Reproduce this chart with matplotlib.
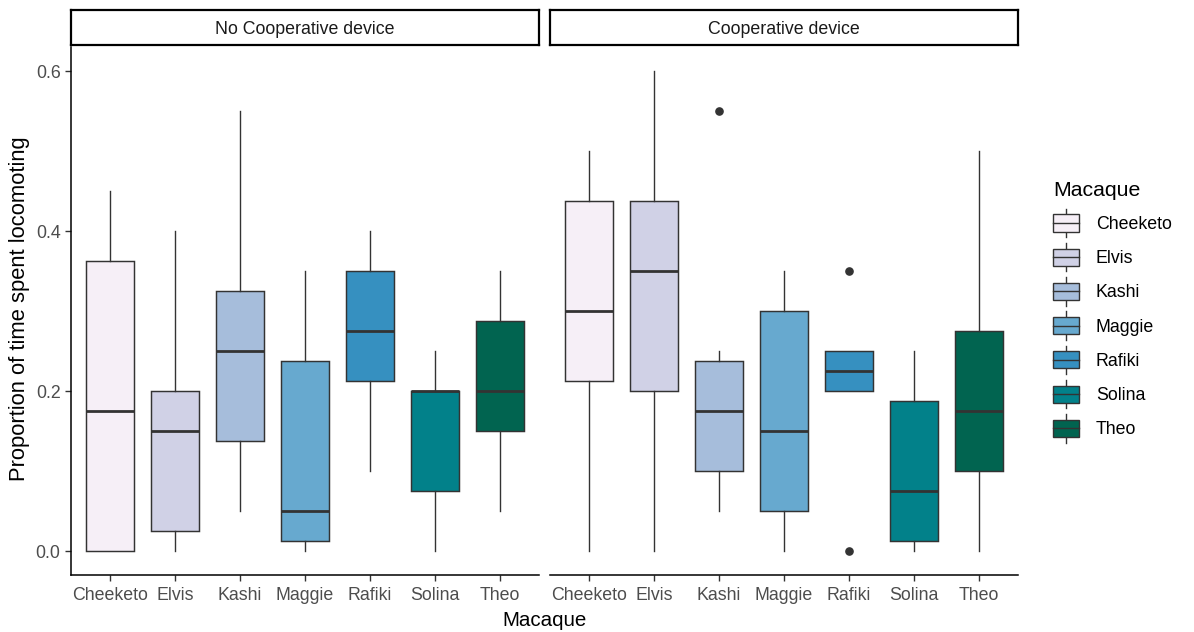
import matplotlib
matplotlib.use("Agg")
import matplotlib.pyplot as plt
from matplotlib.patches import Patch, Rectangle
from matplotlib.lines import Line2D
from matplotlib.legend_handler import HandlerBase

plt.rcParams["font.family"] = ["Liberation Sans", "DejaVu Sans"]

# ---- data -------------------------------------------------------------
macaques = ["Cheeketo", "Elvis", "Kashi", "Maggie", "Rafiki", "Solina", "Theo"]
facets = ["No Cooperative device", "Cooperative device"]

# No cooperative device
nc_low = [0.0, 0.0, 0.05, 0.0, 0.10, 0.0, 0.05]
nc_q1 = [0.0, 0.025, 0.1375, 0.0125, 0.2125, 0.075, 0.15]
nc_med = [0.175, 0.15, 0.25, 0.05, 0.275, 0.20, 0.20]
nc_q3 = [0.3625, 0.20, 0.325, 0.2375, 0.35, 0.20, 0.2875]
nc_high = [0.45, 0.40, 0.55, 0.35, 0.40, 0.25, 0.35]
nc_out = [[], [], [], [], [], [], []]

# Cooperative device
co_low = [0.0, 0.0, 0.05, 0.0, 0.20, 0.0, 0.0]
co_q1 = [0.2125, 0.20, 0.10, 0.05, 0.20, 0.0125, 0.10]
co_med = [0.30, 0.35, 0.175, 0.15, 0.225, 0.075, 0.175]
co_q3 = [0.4375, 0.4375, 0.2375, 0.30, 0.25, 0.1875, 0.275]
co_high = [0.50, 0.60, 0.25, 0.35, 0.25, 0.25, 0.50]
co_out = [[], [], [0.55], [], [0.35, 0.0], [], []]

palette = ["#f6eff7", "#d0d1e6", "#a6bddb", "#67a9cf", "#3690c0", "#02818a", "#016450"]

y_ticks = [0.0, 0.2, 0.4, 0.6]
y_ticklabels = ["0.0", "0.2", "0.4", "0.6"]

# ---- styling ----------------------------------------------------------
W, H = 1194, 632
LINE = "#333333"
TICK_TXT = "#4D4D4D"
FS_TICK = 12.8
FS_TITLE = 14.8


def fx(px):
    return px / W


def fy(px):
    return 1 - px / H


fig = plt.figure(figsize=(W / 100, H / 100), dpi=100)
fig.patch.set_facecolor("white")

panel_left = [71, 550]
panel_w = 468
panel_top, panel_bot = 47, 575

groups = [
    (nc_low, nc_q1, nc_med, nc_q3, nc_high, nc_out),
    (co_low, co_q1, co_med, co_q3, co_high, co_out),
]

for k, (lo, q1, med, q3, hi, out) in enumerate(groups):
    ax = fig.add_axes([fx(panel_left[k]), fy(panel_bot), fx(panel_w),
                       (panel_bot - panel_top) / H])
    stats = []
    for i, name in enumerate(macaques):
        stats.append(dict(label=name, whislo=lo[i], q1=q1[i], med=med[i],
                          q3=q3[i], whishi=hi[i], fliers=out[i]))
    pos = list(range(1, len(macaques) + 1))
    bp = ax.bxp(stats, positions=pos, widths=0.75, patch_artist=True,
                showcaps=False, showfliers=True,
                boxprops=dict(edgecolor=LINE, linewidth=1.05),
                whiskerprops=dict(color=LINE, linewidth=1.0),
                medianprops=dict(color=LINE, linewidth=2.0,
                                 solid_capstyle="butt"),
                flierprops=dict(marker="o", markerfacecolor=LINE,
                                markeredgecolor=LINE, markersize=5.2,
                                linestyle="none"))
    for patch, c in zip(bp["boxes"], palette):
        patch.set_facecolor(c)

    ax.set_xlim(0.4, len(macaques) + 0.6)
    ax.set_ylim(-0.03, 0.63)
    ax.set_xticks(pos)
    ax.set_xticklabels(macaques)
    ax.set_yticks(y_ticks)
    ax.set_yticklabels(y_ticklabels)
    ax.tick_params(axis="both", length=4, width=1.0, color=LINE,
                   labelsize=FS_TICK, labelcolor=TICK_TXT, pad=3.5)
    ax.tick_params(axis="x", pad=4.5)
    for s in ("top", "right"):
        ax.spines[s].set_visible(False)
    ax.spines["bottom"].set_linewidth(1.1)
    ax.spines["bottom"].set_color("black")
    ax.spines["left"].set_linewidth(1.1)
    ax.spines["left"].set_color("black")
    if k == 1:
        ax.spines["left"].set_visible(False)
        ax.tick_params(axis="y", left=False, labelleft=False)

    # facet strip
    sax = fig.add_axes([fx(panel_left[k]), fy(45), fx(panel_w), 35 / H])
    sax.set_xticks([])
    sax.set_yticks([])
    for s in sax.spines.values():
        s.set_linewidth(1.6)
        s.set_color("black")
    sax.text(0.5, 0.45, facets[k], ha="center", va="center",
             fontsize=FS_TICK, color="#1A1A1A", transform=sax.transAxes)

# axis titles
fig.text(fx(545), fy(621), "Macaque", ha="center", va="center",
         fontsize=FS_TITLE, color="black")
fig.text(fx(20), fy(309), "Proportion of time spent locomoting",
         ha="center", va="center", rotation=90, fontsize=15.8,
         color="black")


# legend key drawn as a miniature box plot
class BoxKey(HandlerBase):
    def create_artists(self, legend, orig_handle, xdescent, ydescent,
                       width, height, fontsize, trans):
        x0 = -xdescent
        ym = -ydescent + height / 2
        bh = 0.48 * fontsize
        wh = 0.80 * fontsize
        box = Rectangle((x0, ym - bh), width, 2 * bh,
                        facecolor=orig_handle.get_facecolor(),
                        edgecolor=LINE, linewidth=1.0, transform=trans)
        mid = Line2D([x0, x0 + width], [ym, ym],
                     color=LINE, linewidth=1.0, transform=trans)
        w1 = Line2D([x0 + width / 2] * 2, [ym - wh, ym - bh],
                    color=LINE, linewidth=1.0, transform=trans)
        w2 = Line2D([x0 + width / 2] * 2, [ym + bh, ym + wh],
                    color=LINE, linewidth=1.0, transform=trans)
        return [w1, w2, box, mid]


handles = [Patch(facecolor=c, edgecolor=LINE) for c in palette]
leg = fig.legend(handles=handles, labels=macaques,
                 handler_map={Patch: BoxKey()},
                 title="Macaque", loc="upper left",
                 bbox_to_anchor=(fx(1053), fy(181)),
                 frameon=False, fontsize=FS_TICK,
                 title_fontsize=15.3, handlelength=1.46,
                 handleheight=1.57, labelspacing=0.66, handletextpad=0.95,
                 borderaxespad=0, borderpad=0, alignment="left")

fig.savefig("out.png", dpi=100, facecolor="white")
